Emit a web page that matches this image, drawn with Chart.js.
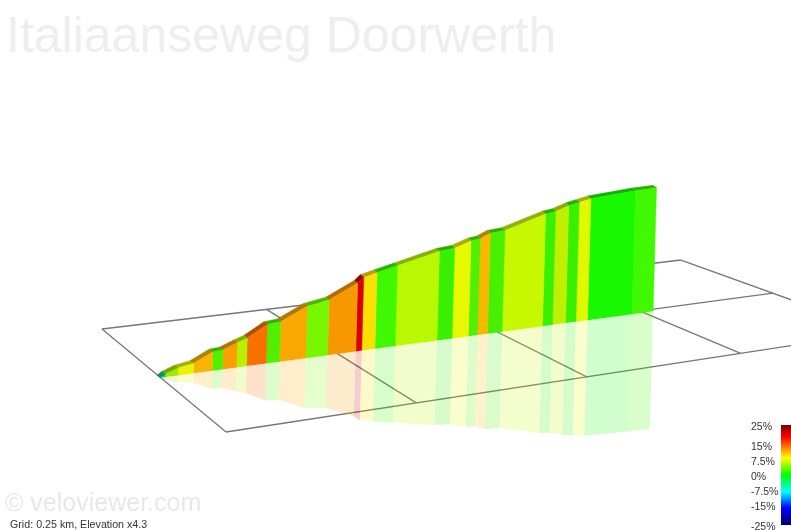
<!DOCTYPE html>
<html>
<head>
<meta charset="utf-8">
<title>Italiaanseweg Doorwerth</title>
<script src="https://cdn.jsdelivr.net/npm/chart.js@4.4.0/dist/chart.umd.min.js"></script>
<style>
  html, body { margin: 0; padding: 0; background: #fff; overflow: hidden; }
  canvas { display: block; }
</style>
</head>
<body>
<canvas id="profile" width="791" height="530" style="width:791px;height:530px"></canvas>
<script>
const titleText = 'Italiaanseweg Doorwerth';
const watermarkText = '\u00a9 veloviewer.com';
const noteText = 'Grid: 0.25 km, Elevation x4.3';

// route: distance along the climb (km) and height gained (m)
const distanceKm = [0, 0.006, 0.023, 0.044, 0.070, 0.084, 0.104, 0.118, 0.146, 0.165, 0.203, 0.235, 0.277, 0.286,
  0.306, 0.337, 0.402, 0.426, 0.452, 0.467, 0.483, 0.507, 0.574, 0.591, 0.613, 0.631, 0.651, 0.729, 0.767];
const elevationM = [0, 1.0, 2.5, 3.3, 6.3, 6.5, 8.3, 9.4, 13.1, 13.5, 17.7, 18.9, 23.5, 25.3,
  26.4, 28.0, 31.5, 32.0, 34.0, 34.4, 36.0, 36.5, 41.0, 41.5, 43.1, 44.0, 44.9, 46.3, 46.6];
// colour of each stretch between two distances
const segmentColors = ['#00d070', '#a0e800', '#e8f400', '#f8b400', '#50f000', '#f8a000', '#b8f000', '#f87000',
  '#50f000', '#f8a800', '#78f800', '#f89800', '#d80000', '#f8e000', '#40f800', '#b8f800', '#38f000', '#e8f800',
  '#50f000', '#f8b800', '#48f000', '#c8f800', '#38f000', '#c0f000', '#38f000', '#e0f800', '#18f800', '#40f800'];

const gridKm = [0, 0.25, 0.5, 0.75, 1];
const gridSides = [0, 0.5, 1];
const routeSide = 0.52;

const gradeTicks = [25, 15, 7.5, 0, -7.5, -15, -25];
const gradeStops = ['#7a0000', '#ff0000', '#ffff00', '#00ff00', '#00ffff', '#0000ff', '#00006a'];
const gradeStopAt = [0, 0.12, 0.33, 0.5, 0.67, 0.83, 1];

// ground plane -> screen, fitted on the grid corners
function project(u, v, metres) {
  const d = 0.1907 * u - 0.1727 * v + 1;
  const h = 2.8 * (metres || 0) / d;
  return {
    x: (708.9 * u + 85 * v + 102) / d + 0.028 * h,
    y: (-19.4 * u + 28.4 * v + 329) / d - h
  };
}

function shade(hex, f) {
  const n = parseInt(hex.slice(1), 16);
  return `rgb(${(n >> 16) * f | 0},${((n >> 8) & 255) * f | 0},${(n & 255) * f | 0})`;
}

function polygon(points, color, borderWidth) {
  return {
    data: points,
    showLine: true,
    fill: 'shape',
    backgroundColor: color,
    borderColor: color,
    borderWidth: borderWidth,
    pointRadius: 0,
    tension: 0
  };
}

function gridLine(points) {
  return { data: points, showLine: true, fill: false, borderColor: '#777', borderWidth: 1.3, pointRadius: 0 };
}

const wallSets = [], capSets = [], mirrorSets = [];
segmentColors.forEach((color, i) => {
  const [u0, u1] = [distanceKm[i], distanceKm[i + 1]];
  const [e0, e1] = [elevationM[i], elevationM[i + 1]];
  const base0 = project(u0, routeSide), base1 = project(u1, routeSide);
  const top0 = project(u0, routeSide, e0), top1 = project(u1, routeSide, e1);
  const low0 = project(u0, routeSide, -e0 * 0.95), low1 = project(u1, routeSide, -e1 * 0.95);
  const back = p => ({ x: p.x - 3.5, y: p.y - 2.5 });
  wallSets.push(polygon([base0, top0, top1, base1], color, 0.5));
  capSets.push(polygon([top0, back(top0), back(top1), top1], shade(color, 0.72), 0.5));
  mirrorSets.push(polygon([base0, low0, low1, base1], color + '33', 0));
});

const gridSets = [];
gridKm.forEach(u => gridSets.push(gridLine([project(u, 0), project(u, 1)])));
gridSides.forEach(v => gridSets.push(gridLine([project(0, v), project(1, v)])));

const barSet = polygon([{ x: 781, y: 25.5 }, { x: 791, y: 25.5 }, { x: 791, y: -24.5 }, { x: 781, y: -24.5 }], '#000', 0);
barSet.yAxisID = 'grade';
barSet.backgroundColor = ctx => {
  const scale = ctx.chart.scales.grade;
  const y0 = scale ? scale.getPixelForValue(25.5) : NaN;
  const y1 = scale ? scale.getPixelForValue(-24.5) : NaN;
  if (!Number.isFinite(y0) || !Number.isFinite(y1)) return '#000';
  const g = ctx.chart.ctx.createLinearGradient(0, y0, 0, y1);
  gradeStops.forEach((c, i) => g.addColorStop(gradeStopAt[i], c));
  return g;
};

const textLayer = {
  id: 'textLayer',
  afterDraw(chart) {
    const { ctx, scales } = chart;
    ctx.save();
    ctx.textBaseline = 'alphabetic';
    ctx.textAlign = 'left';
    ctx.fillStyle = '#eeeeee';
    ctx.font = '50px "Liberation Sans", Arial, sans-serif';
    ctx.fillText(titleText, 6, 52);
    ctx.fillStyle = '#e8e8e8';
    ctx.font = '25px "Liberation Sans", Arial, sans-serif';
    ctx.fillText(watermarkText, 5, 511);
    ctx.fillStyle = '#333';
    ctx.font = '10.7px "Liberation Sans", Arial, sans-serif';
    ctx.fillText(noteText, 10, 528);
    ctx.font = '10.5px "Liberation Sans", Arial, sans-serif';
    ctx.textBaseline = 'middle';
    gradeTicks.forEach(t => ctx.fillText(t + '%', 751, scales.grade.getPixelForValue(t) + 1));
    ctx.restore();
  }
};

new Chart(document.getElementById('profile'), {
  type: 'scatter',
  data: { datasets: [...capSets, ...wallSets, barSet, ...mirrorSets, ...gridSets] },
  plugins: [textLayer],
  options: {
    responsive: false,
    animation: false,
    events: [],
    layout: { padding: 0 },
    plugins: { legend: { display: false }, tooltip: { enabled: false }, title: { display: false } },
    scales: {
      x: { type: 'linear', min: 0, max: 791, display: false },
      y: { type: 'linear', min: 0, max: 530, reverse: true, display: false },
      // colour key runs at 2 px per percent, 0% sitting at 476 px
      grade: { type: 'linear', position: 'right', min: -27, max: 238, display: false }
    }
  }
});
</script>
</body>
</html>
